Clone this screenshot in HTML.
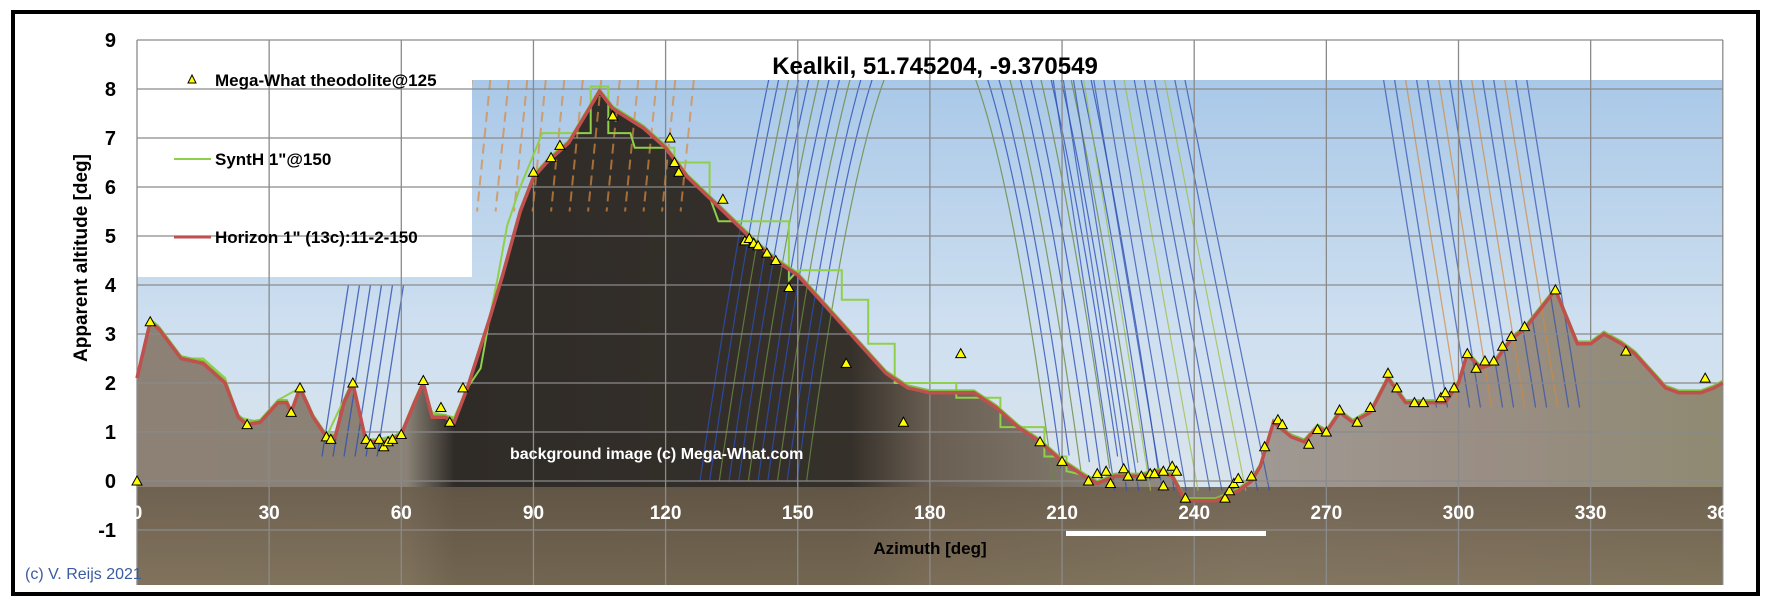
<!DOCTYPE html>
<html><head><meta charset="utf-8"><style>
body{margin:0;background:#fff;width:1771px;height:608px;overflow:hidden}
svg text{font-family:"Liberation Sans",sans-serif;font-weight:bold}
</style></head><body>
<svg id="s" width="1771" height="608" xmlns="http://www.w3.org/2000/svg">
<defs>
<linearGradient id="sky" x1="0" y1="0" x2="0" y2="1">
<stop offset="0" stop-color="#a9c8e8"/><stop offset="0.5" stop-color="#cfe0f0"/><stop offset="1" stop-color="#dfe6ea"/>
</linearGradient>
<linearGradient id="ter" x1="0" y1="0" x2="1" y2="0">
<stop offset="0" stop-color="#8c8174"/><stop offset="0.17" stop-color="#8a8276"/><stop offset="0.2" stop-color="#2f2b27"/>
<stop offset="0.45" stop-color="#35302a"/><stop offset="0.5" stop-color="#6a5e52"/><stop offset="0.58" stop-color="#7d7468"/>
<stop offset="0.7" stop-color="#a09a94"/><stop offset="0.85" stop-color="#9a8e84"/><stop offset="1" stop-color="#8f8a72"/>
</linearGradient>
<linearGradient id="gnd" x1="0" y1="0" x2="0" y2="1">
<stop offset="0" stop-color="#6a5c4a"/><stop offset="1" stop-color="#7e7058"/>
</linearGradient>
<clipPath id="cp"><rect x="137" y="80" width="1586" height="505"/></clipPath>
</defs>
<rect x="13" y="12" width="1745" height="582" fill="none" stroke="#000" stroke-width="4"/>
<g id="g"></g>
</svg>
<script>
const X=a=>137+a*4.405, Y=v=>481-v*49;
const NS="http://www.w3.org/2000/svg";
const root=document.getElementById('g');
let g=root;
function el(t,at,txt){const e=document.createElementNS(NS,t);for(const k in at)e.setAttribute(k,at[k]);if(txt!==undefined)e.textContent=txt;g.appendChild(e);return e;}
const H=[[0,2.1],[3,3.25],[5,3.1],[10,2.5],[15,2.4],[20,2.0],[23,1.3],[25,1.15],[28,1.2],[30,1.4],[32,1.6],[34,1.6],[35,1.4],[37,1.9],[40,1.3],[43,0.9],[45,0.9],[47,1.6],[49,2.0],[51,1.2],[52,0.8],[55,0.8],[57,0.8],[60,0.95],[63,1.6],[65,2.0],[67,1.3],[70,1.3],[72,1.2],[75,1.9],[80,3.3],[83,4.2],[87,5.5],[90,6.2],[93,6.5],[98,6.9],[102,7.5],[105,7.95],[108,7.6],[115,7.2],[120,6.8],[125,6.2],[132,5.6],[140,4.9],[145,4.5],[150,4.2],[155,3.7],[160,3.2],[165,2.7],[170,2.2],[175,1.9],[180,1.8],[190,1.8],[195,1.5],[200,1.1],[205,0.8],[210,0.4],[215,0.1],[218,-0.05],[222,0.1],[228,0.1],[232,0.2],[235,0.1],[238,-0.4],[245,-0.4],[250,-0.2],[253,0],[255,0.3],[258,1.2],[262,0.9],[265,0.8],[268,1.1],[270,1.0],[273,1.4],[276,1.2],[280,1.4],[284,2.1],[288,1.6],[292,1.6],[297,1.6],[300,2.0],[302,2.6],[305,2.3],[308,2.4],[312,2.9],[315,3.1],[322,3.9],[327,2.8],[330,2.8],[333,3.0],[337,2.8],[340,2.6],[347,1.9],[350,1.8],[355,1.8],[358,1.9],[360,2.0]];
// photo (clipped)
g=el('g',{"clip-path":'url(#cp)'});
el('rect',{x:137,y:80,width:1586,height:505,fill:'url(#sky)'});
let tp='M'+X(0)+',585 '+H.map(p=>'L'+X(p[0]).toFixed(1)+','+Y(p[1]).toFixed(1)).join(' ')+' L'+X(360)+',585Z';
el('path',{d:tp,fill:'url(#ter)'});
el('rect',{x:137,y:487,width:1586,height:98,fill:'url(#gnd)',opacity:0.85});
for(let i=0;i<12;i++){const ap=9.5+i*0.6,w=28+i*2.2;let d='';for(let a=180-w;a<=180+w;a+=1){const v=ap-ap*((a-180)/w)**2;d+=(d?'L':'M')+X(a).toFixed(1)+','+Y(v).toFixed(1);}el('path',{d:d,fill:'none',stroke:i%3?'#2b4fb8':'#6a8a40',"stroke-width":1.2,opacity:0.8});}
for(let i=0;i<14;i++){const a0=208+i*2.3;el('line',{x1:X(a0),y1:80,x2:X(a0+14+i*0.4),y2:Y(-0.2),stroke:i%4==3?'#9cbf40':'#2e4fb0',"stroke-width":1.2,opacity:0.75});}
for(let i=0;i<14;i++){const a0=283+i*2.5;el('line',{x1:X(a0),y1:80,x2:X(a0+12),y2:Y(1.5),stroke:i%3==2?'#d08a40':'#2e4fb0',"stroke-width":1.3,opacity:0.7});}
for(let i=0;i<18;i++){const a0=55+i*4.2;el('line',{x1:X(a0),y1:80,x2:X(a0-3),y2:Y(5.5),stroke:'#d88a40',"stroke-width":2,"stroke-dasharray":'10 6',opacity:0.7});}
for(let i=0;i<6;i++){const a0=42+i*2.5;el('line',{x1:X(a0+6),y1:Y(4),x2:X(a0),y2:Y(0.5),stroke:'#2e4fb0',"stroke-width":1.3,opacity:0.8});}
g=root;
el('rect',{x:137,y:80,width:335,height:197,fill:'#fff'});
for(let v=-1;v<=9;v++)el('line',{x1:137,y1:Y(v),x2:1723,y2:Y(v),stroke:'#8a8a8a',"stroke-width":1.3});
for(let a=0;a<=360;a+=30)el('line',{x1:X(a),y1:40,x2:X(a),y2:585,stroke:'#8a8a8a',"stroke-width":1.3});
const S=[[0,2.1],[3,3.2],[5,3.1],[10,2.5],[15,2.5],[20,2.1],[23,1.3],[28,1.2],[32,1.65],[37,1.9],[40,1.3],[43,0.9],[49,2.05],[52,0.8],[60,0.95],[65,2.0],[67,1.4],[72,1.3],[75,1.9],[78,2.3],[80,3.3],[82,4.2],[84,5.2],[87,6.0],[92,7.1],[103,7.1],[103,8.05],[107,8.05],[107,7.1],[112,7.1],[113,6.8],[122,6.8],[122,6.5],[130,6.5],[130,5.8],[132,5.3],[148,5.3],[148,4.1],[150,4.3],[160,4.3],[160,3.7],[166,3.7],[166,2.8],[172,2.8],[172,2.0],[186,2.0],[186,1.7],[196,1.7],[196,1.1],[206,1.1],[206,0.5],[211,0.5],[211,0.2],[216,0.1]];
el('path',{d:S.map((p,i)=>(i?'L':'M')+X(p[0]).toFixed(1)+','+Y(p[1]).toFixed(1)).join(' '),fill:'none',stroke:'#8fcf4a',"stroke-width":2});
el('path',{d:H.map((p,i)=>(i?'L':'M')+X(p[0]).toFixed(1)+','+Y(p[1]+0.05).toFixed(1)).join(' '),fill:'none',stroke:'#7fc040',"stroke-width":2});
el('path',{d:H.map((p,i)=>(i?'L':'M')+X(p[0]).toFixed(1)+','+Y(p[1]).toFixed(1)).join(' '),fill:'none',stroke:'#c0504d',"stroke-width":3.5});
const M=[[0,0],[3,3.25],[25,1.15],[35,1.4],[37,1.9],[43,0.9],[44,0.85],[49,2.0],[52,0.85],[53,0.75],[55,0.85],[56,0.7],[57,0.8],[58,0.85],[60,0.95],[65,2.05],[69,1.5],[71,1.2],[74,1.9],[90,6.3],[94,6.6],[96,6.85],[108,7.45],[121,7.0],[122,6.5],[123,6.3],[133,5.75],[138,4.9],[139,4.95],[140,4.85],[141,4.8],[143,4.65],[145,4.5],[148,3.95],[161,2.4],[174,1.2],[187,2.6],[205,0.8],[210,0.4],[216,0],[218,0.15],[220,0.2],[221,-0.05],[224,0.25],[225,0.1],[228,0.1],[230,0.15],[231,0.15],[233,-0.1],[233,0.2],[235,0.3],[236,0.2],[238,-0.35],[247,-0.35],[248,-0.2],[249,-0.05],[250,0.05],[253,0.1],[256,0.7],[259,1.25],[260,1.15],[266,0.75],[268,1.05],[270,1.0],[273,1.45],[277,1.2],[280,1.5],[284,2.2],[286,1.9],[290,1.6],[292,1.6],[296,1.7],[297,1.8],[299,1.9],[302,2.6],[304,2.3],[306,2.45],[308,2.45],[310,2.75],[312,2.95],[315,3.15],[322,3.9],[338,2.65],[356,2.1]];
M.forEach(p=>{const x=X(p[0]),y=Y(p[1]);el('path',{d:`M${x},${y-5} L${x+5},${y+4} L${x-5},${y+4}Z`,fill:'#ffff00',stroke:'#000',"stroke-width":1});});
el('rect',{x:1066,y:531,width:200,height:5,fill:'#fff'});
for(let v=-1;v<=9;v++)el('text',{x:116,y:Y(v)+7,"text-anchor":'end',"font-size":20},v);
for(let a=0;a<=360;a+=30)el('text',{x:X(a),y:519,"text-anchor":'middle',"font-size":19,fill:'#fff'},a);
el('text',{x:930,y:554,"text-anchor":'middle',"font-size":17},'Azimuth [deg]');
el('text',{x:0,y:0,"text-anchor":'middle',"font-size":19,transform:'translate(87,258) rotate(-90)'},'Apparent altitude [deg]');
el('text',{x:935,y:74,"text-anchor":'middle',"font-size":24},'Kealkil, 51.745204, -9.370549');
el('text',{x:510,y:459,"font-size":16,fill:'#fff'},'background image (c) Mega-What.com');
const t=el('text',{x:25,y:579,"font-size":16,fill:'#3a5ba0'},'(c) V. Reijs 2021');t.style.fontWeight='normal';
el('path',{d:'M192,75 L196,83 L188,83Z',fill:'#ffff00',stroke:'#000',"stroke-width":1});
el('text',{x:215,y:86,"font-size":17},'Mega-What theodolite@125');
el('line',{x1:174,y1:159,x2:211,y2:159,stroke:'#8fcf4a',"stroke-width":2});
el('text',{x:215,y:165,"font-size":17},'SyntH 1"@150');
el('line',{x1:174,y1:237,x2:211,y2:237,stroke:'#c0504d',"stroke-width":3});
el('text',{x:215,y:243,"font-size":17},'Horizon 1" (13c):11-2-150');
</script>
</body></html>
